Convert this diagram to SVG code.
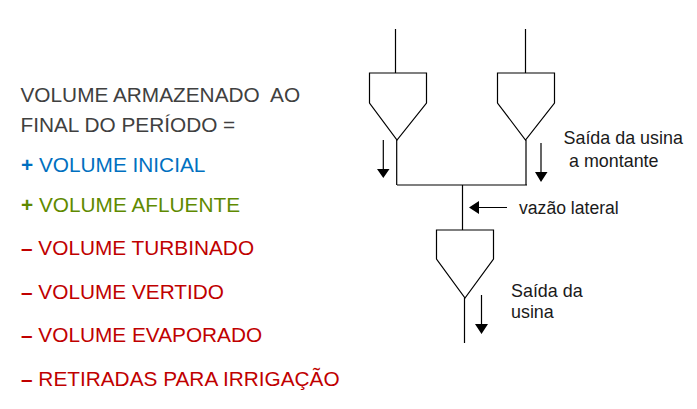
<svg xmlns="http://www.w3.org/2000/svg" width="697" height="409" viewBox="0 0 697 409">
<style>
text{font-family:"Liberation Sans",Arial,sans-serif;white-space:pre}
.big{font-size:20.8px}
.small{font-size:17.6px;fill:#1a1a1a}
.wide{font-size:17.9px}
.dark{fill:#404040}.blue{fill:#0070c0}.green{fill:#5f8a00}.red{fill:#c00000}
.ln{fill:none;stroke:#000;stroke-width:1.2}
.head{fill:#000}
</style>
<rect width="697" height="409" fill="#fff"/>
<g id="legend">
<text class="big dark" x="20.500" y="102">VOLUME ARMAZENADO  AO</text>
<text class="big dark" x="20.500" y="132">FINAL DO PERÍODO =</text>
<text class="big blue" x="21" y="172"><tspan font-weight="bold">+</tspan> VOLUME INICIAL</text>
<text class="big green" x="21" y="212"><tspan font-weight="bold">+</tspan> VOLUME AFLUENTE</text>
<text class="big red" x="21" y="255"><tspan font-weight="bold">–</tspan> VOLUME TURBINADO</text>
<text class="big red" x="21" y="298.500"><tspan font-weight="bold">–</tspan> VOLUME VERTIDO</text>
<text class="big red" x="21" y="342"><tspan font-weight="bold">–</tspan> VOLUME EVAPORADO</text>
<text class="big red" x="21" y="385.500"><tspan font-weight="bold">–</tspan> RETIRADAS PARA IRRIGAÇÃO</text>
</g>
<g id="usina-esquerda"><path class="ln" d="M369.5 73H426.5V103L397 140L369.5 103Z"/></g>
<g id="usina-direita"><path class="ln" d="M497.5 73H554.5V103L525.5 140L497.5 103Z"/></g>
<g id="usina-jusante"><path class="ln" d="M436.5 230H493.5V259L465 298L436.5 259Z"/></g>
<g id="connectors">
<path class="ln" d="M395.5 29V73M525.5 29V73M396.7 140V185M526 140V185M397 185H527M462.5 185V230M464.5 298V343"/>
<path class="ln" d="M383.3 140V169M541 143V173M507 207.5H479M481.5 295V325"/>
<path class="head" d="M377 169H389.500L383.300 178ZM535 172H547.500L541 182ZM469 207.500L479 201V214ZM475 324H488L481.500 334Z"/>
</g>
<g id="labels">
<text class="small wide" x="563.500" y="144">Saída da usina</text>
<text class="small wide" x="569" y="167">a montante</text>
<text class="small" x="519" y="214">vazão lateral</text>
<text class="small wide" x="511" y="297">Saída da</text>
<text class="small wide" x="511" y="318">usina</text>
</g>
</svg>
